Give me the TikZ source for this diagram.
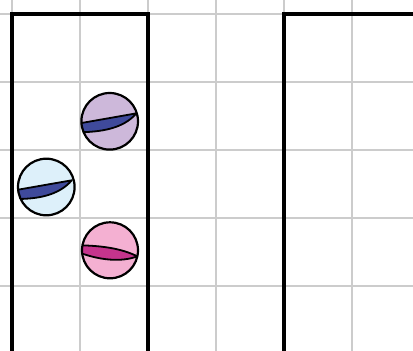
\documentclass[tikz,border=0pt]{standalone}
\definecolor{gridgray}{HTML}{CCCCCC}
\definecolor{lavender}{HTML}{CDB8DA}
\definecolor{skyball}{HTML}{DDF0FA}
\definecolor{pinkball}{HTML}{F4B0D2}
\definecolor{lensblue}{HTML}{3F4A9B}
\definecolor{lensmag}{HTML}{C5348D}
\begin{document}
\begin{tikzpicture}[x=1pt,y=-1pt,
  gridline/.style={gridgray,line width=2pt},
  wall/.style={black,line width=4.5pt,line join=miter},
  ball/.style={circle,minimum size=56.6pt,inner sep=0pt,outer sep=0pt},
  ballrim/.style={line width=2.2pt},
  lensline/.style={line width=1.8pt,line join=round}]
\useasboundingbox (0,0) rectangle (413,351);
% grid
\foreach \gx in {12,80,148,216,284,352}
  \draw[gridline] (\gx,0) -- (\gx,351);
\foreach \gy in {14,82,150,218,286}
  \draw[gridline] (0,\gy) -- (413,\gy);
% walls
\draw[wall] (12,353) -- (12,14) -- (148,14) -- (148,353);
\draw[wall] (284,353) -- (284,14) -- (415,14);
% balls
\node[ball,fill=lavender] (b1) at (109.7,121.3) {};
\node[ball,fill=skyball] (b2) at (46.3,187) {};
\node[ball,fill=pinkball] (b3) at (110,250.3) {};
% lenses
\begin{scope}
  \clip (b1.center) circle[radius=28.3pt];
  \begin{scope}[shift={(b1.center)}]
    \filldraw[lensline,fill=lensblue] (-30,2) .. controls (-10,-1.5) and (10,-5) .. (26.8,-8)
      .. controls (13,8) and (-10,10.5) .. (-30,11) -- cycle;
  \end{scope}
\end{scope}
\begin{scope}
  \clip (b2.center) circle[radius=28.3pt];
  \begin{scope}[shift={(b2.center)}]
    \filldraw[lensline,fill=lensblue] (-30,3) .. controls (-10,-0.5) and (10,-4) .. (25.5,-6.7)
      .. controls (12,9) and (-10,12) .. (-30,12) -- cycle;
  \end{scope}
\end{scope}
\begin{scope}
  \clip (b3.center) circle[radius=28pt];
  \begin{scope}[shift={(b3.center)}]
    \filldraw[lensline,fill=lensmag] (-30,-5) .. controls (-10,-4.5) and (10,-2.5) .. (27.3,6)
      .. controls (12,12) and (-10,10) .. (-30,2.5) -- cycle;
  \end{scope}
\end{scope}
% rims
\draw[ballrim] (b1.center) circle[radius=28.3pt];
\draw[ballrim] (b2.center) circle[radius=28.3pt];
\draw[ballrim] (b3.center) circle[radius=28pt];
\end{tikzpicture}
\end{document}
